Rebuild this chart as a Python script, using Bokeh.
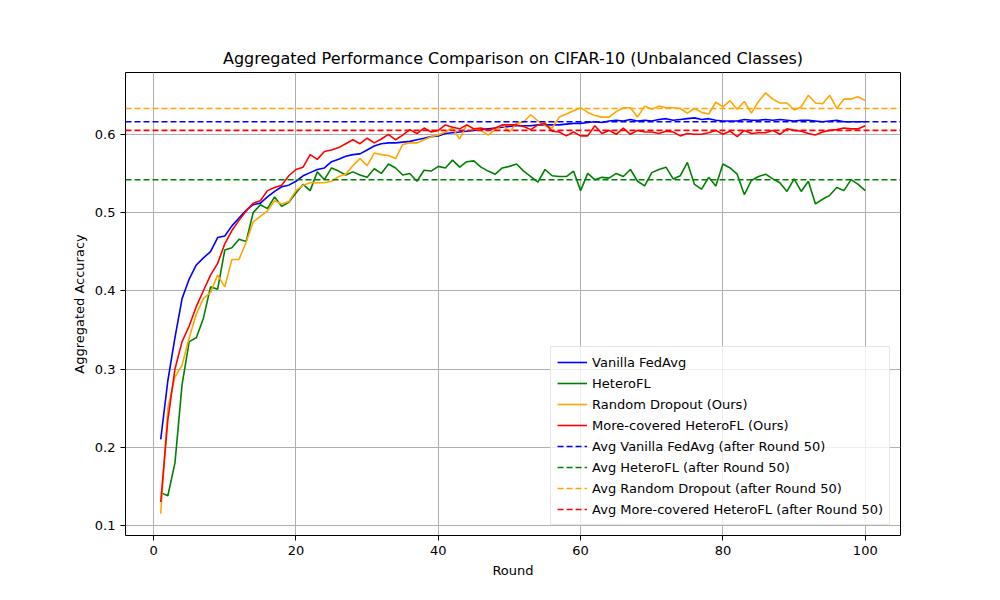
from bokeh.plotting import figure
from bokeh.models import Span, Legend, LegendItem, ColumnDataSource, SingleIntervalTicker
from bokeh.embed import file_html
from bokeh.resources import INLINE

rounds = list(range(1, 101))

vanilla = [0.21, 0.285, 0.34, 0.39, 0.415, 0.433, 0.442, 0.45, 0.468, 0.47,
           0.483, 0.493, 0.503, 0.51, 0.512, 0.52, 0.527, 0.533, 0.535, 0.54,
           0.547, 0.551, 0.555, 0.557, 0.565, 0.568, 0.572, 0.574, 0.575, 0.58,
           0.585, 0.588, 0.589, 0.589, 0.59, 0.591, 0.593, 0.595, 0.597, 0.598,
           0.601, 0.602, 0.603, 0.604, 0.605, 0.606, 0.607, 0.608, 0.609, 0.61,
           0.611, 0.611, 0.611, 0.612, 0.612, 0.612, 0.612, 0.613, 0.614, 0.614,
           0.615, 0.616, 0.615, 0.617, 0.618, 0.617, 0.619, 0.617, 0.618, 0.617,
           0.619, 0.62, 0.618, 0.619, 0.62, 0.621, 0.619, 0.62, 0.618, 0.617,
           0.617, 0.617, 0.619, 0.618, 0.618, 0.619, 0.618, 0.619, 0.618, 0.617,
           0.618, 0.618, 0.617, 0.616, 0.617, 0.618, 0.616, 0.616, 0.616, 0.616]

heterofl = [0.142, 0.138, 0.18, 0.28, 0.335, 0.34, 0.365, 0.405, 0.402, 0.452,
            0.455, 0.466, 0.463, 0.5, 0.51, 0.505, 0.52, 0.508, 0.513, 0.525,
            0.536, 0.528, 0.552, 0.542, 0.557, 0.553, 0.548, 0.552, 0.548, 0.545,
            0.556, 0.55, 0.562, 0.557, 0.548, 0.55, 0.54, 0.554, 0.553, 0.559,
            0.557, 0.567, 0.558, 0.565, 0.566, 0.558, 0.553, 0.549, 0.557, 0.559,
            0.562, 0.553, 0.546, 0.539, 0.555, 0.547, 0.546, 0.546, 0.553, 0.528,
            0.55, 0.542, 0.545, 0.544, 0.55, 0.546, 0.555, 0.54, 0.534, 0.551,
            0.555, 0.558, 0.543, 0.547, 0.564, 0.536, 0.53, 0.545, 0.534, 0.562,
            0.557, 0.549, 0.523, 0.541, 0.546, 0.549, 0.543, 0.538, 0.527, 0.543,
            0.527, 0.54, 0.511, 0.517, 0.522, 0.532, 0.528, 0.542, 0.536, 0.528]

random_dropout = [0.115, 0.25, 0.29, 0.305, 0.34, 0.37, 0.39, 0.398, 0.42, 0.405,
                  0.44, 0.44, 0.462, 0.488, 0.495, 0.502, 0.515, 0.511, 0.514, 0.528,
                  0.535, 0.538, 0.538, 0.538, 0.54, 0.546, 0.549, 0.56, 0.569, 0.56,
                  0.576, 0.574, 0.573, 0.569, 0.587, 0.589, 0.589, 0.593, 0.597, 0.599,
                  0.603, 0.608, 0.594, 0.612, 0.607, 0.605, 0.599, 0.606, 0.612, 0.603,
                  0.614, 0.616, 0.625, 0.617, 0.611, 0.608, 0.622, 0.626, 0.63, 0.634,
                  0.628, 0.624, 0.622, 0.622, 0.629, 0.634, 0.634, 0.622, 0.636, 0.632,
                  0.636, 0.634, 0.634, 0.633, 0.627, 0.633, 0.628, 0.626, 0.641, 0.635,
                  0.643, 0.632, 0.642, 0.627, 0.642, 0.653, 0.645, 0.64, 0.64, 0.631,
                  0.635, 0.65, 0.64, 0.639, 0.65, 0.633, 0.645, 0.645, 0.648, 0.643]

more_covered = [0.13, 0.235, 0.3, 0.335, 0.355, 0.38, 0.4, 0.42, 0.435, 0.46,
                0.477, 0.49, 0.502, 0.512, 0.515, 0.528, 0.532, 0.535, 0.547, 0.555,
                0.558, 0.574, 0.568, 0.578, 0.58, 0.583, 0.588, 0.593, 0.588, 0.595,
                0.589, 0.594, 0.6, 0.593, 0.599, 0.606, 0.601, 0.608, 0.603, 0.605,
                0.612, 0.609, 0.607, 0.612, 0.607, 0.608, 0.605, 0.608, 0.612, 0.612,
                0.612, 0.61, 0.606, 0.612, 0.614, 0.604, 0.603, 0.598, 0.603, 0.598,
                0.598, 0.611, 0.601, 0.605, 0.6, 0.608, 0.6, 0.605, 0.603, 0.603,
                0.601, 0.604, 0.603, 0.598, 0.601, 0.6, 0.6, 0.602, 0.605, 0.6,
                0.604, 0.597, 0.605, 0.601, 0.602, 0.602, 0.605, 0.6, 0.607, 0.605,
                0.604, 0.601, 0.599, 0.603, 0.605, 0.606, 0.608, 0.607, 0.607, 0.611]

names = ["Vanilla FedAvg", "HeteroFL", "Random Dropout (Ours)", "More-covered HeteroFL (Ours)"]
avg_names = ["Vanilla FedAvg", "HeteroFL", "Random Dropout", "More-covered HeteroFL"]
avg_after_50 = [0.616, 0.542, 0.633, 0.605]
colors = ["blue", "green", "orange", "red"]
series = [vanilla, heterofl, random_dropout, more_covered]

FONT = "DejaVu Sans"

p = figure(width=984, height=584, output_backend="svg", toolbar_location=None,
           x_range=(-3.95, 104.95), y_range=(0.0872, 0.679),
           title="Aggregated Performance Comparison on CIFAR-10 (Unbalanced Classes)",
           x_axis_label="Round", y_axis_label="Aggregated Accuracy",
           min_border_left=125, min_border_right=84, min_border_top=72, min_border_bottom=49)

p.title.align = "center"
p.title.text_font = FONT
p.title.text_font_size = "16px"
p.title.text_font_style = "normal"
p.title.text_color = "black"
p.outline_line_color = "black"
p.outline_line_width = 1
p.outline_line_alpha = 1

for ax in (p.xaxis, p.yaxis):
    ax.axis_label_text_font = FONT
    ax.axis_label_text_font_size = "13px"
    ax.axis_label_text_font_style = "normal"
    ax.axis_label_text_color = "black"
    ax.major_label_text_font = FONT
    ax.major_label_text_font_size = "13px"
    ax.major_label_text_color = "black"
    ax.minor_tick_line_color = None
    ax.major_tick_line_color = "black"
    ax.major_tick_out = 5
    ax.major_tick_in = 0
    ax.axis_line_color = None
p.xaxis.ticker = SingleIntervalTicker(interval=20)
p.yaxis.ticker = SingleIntervalTicker(interval=0.1)
p.grid.grid_line_color = "#b0b0b0"
p.grid.grid_line_width = 1

items = []
for name, col, ys in zip(names, colors, series):
    src = ColumnDataSource(data=dict(x=rounds, y=ys))
    r = p.line("x", "y", source=src, line_color=col, line_width=1.6)
    items.append(LegendItem(label=name, renderers=[r]))

for name, col, avg in zip(avg_names, colors, avg_after_50):
    p.add_layout(Span(location=avg, dimension="width", line_color=col,
                      line_dash="6 3", line_width=1.6))
    # legend entry only: a single NaN point draws nothing in the plot
    dummy = p.line(x=[rounds[0]], y=[float("nan")], line_color=col,
                   line_dash="6 3", line_width=1.6)
    items.append(LegendItem(label="Avg %s (after Round 50)" % name, renderers=[dummy]))

legend = Legend(items=items, location="bottom_right")
legend.label_text_font = FONT
legend.label_text_font_size = "13px"
legend.label_text_color = "black"
legend.border_line_color = "#d0d0d0"
legend.background_fill_alpha = 0.8
legend.spacing = 3
legend.label_height = 18
legend.glyph_height = 18
legend.glyph_width = 30
legend.margin = 10
legend.padding = 6
p.add_layout(legend)

open("out.html", "w").write(file_html(p, INLINE))
